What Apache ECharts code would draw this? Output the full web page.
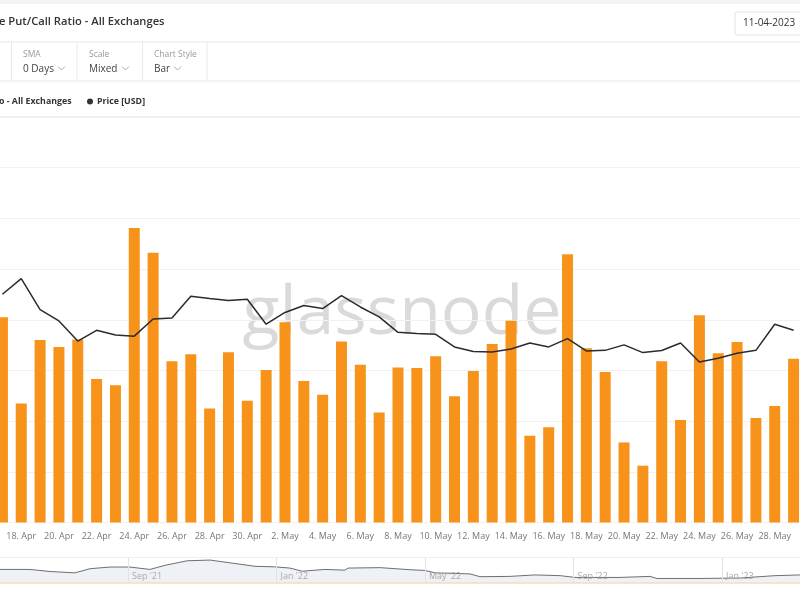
<!DOCTYPE html>
<html>
<head>
<meta charset="utf-8">
<script src="https://cdn.jsdelivr.net/npm/echarts@6/dist/echarts.min.js"></script>
<style>
  html, body { margin: 0; padding: 0; background: #fff; width: 800px; height: 600px; overflow: hidden; position: relative; }
  /* the canvas is wider than the page: the reference is a crop of a larger chart */
  #chart { position: absolute; left: -30px; top: 0; width: 850px; height: 600px; }
</style>
</head>
<body>
<div id="chart"></div>
<script>
// daily categories (2023)
const days = [
  '17. Apr', '18. Apr', '19. Apr', '20. Apr', '21. Apr', '22. Apr', '23. Apr', '24. Apr', '25. Apr', '26. Apr',
  '27. Apr', '28. Apr', '29. Apr', '30. Apr', '1. May', '2. May', '3. May', '4. May', '5. May', '6. May',
  '7. May', '8. May', '9. May', '10. May', '11. May', '12. May', '13. May', '14. May', '15. May', '16. May',
  '17. May', '18. May', '19. May', '20. May', '21. May', '22. May', '23. May', '24. May', '25. May', '26. May',
  '27. May', '28. May', '29. May'
]

// put/call ratio (bars)
const putCallRatio = [
  0.405, 0.235, 0.360, 0.346, 0.361, 0.283, 0.271, 0.581, 0.532, 0.318,
  0.332, 0.225, 0.336, 0.240, 0.301, 0.395, 0.279, 0.252, 0.357, 0.311,
  0.217, 0.306, 0.305, 0.328, 0.249, 0.299, 0.352, 0.398, 0.171, 0.188,
  0.529, 0.344, 0.297, 0.158, 0.112, 0.318, 0.202, 0.409, 0.334, 0.356,
  0.206, 0.230, 0.323
]

// price [USD] (line)
const priceUsd = [
  29260, 30030, 28500, 27940, 26950, 27480, 27250, 27190, 28040, 28090,
  29160, 29050, 28950, 29010, 27780, 28360, 28700, 28550, 29190, 28630,
  28140, 27380, 27320, 27280, 26660, 26430, 26410, 26560, 26850, 26660,
  27070, 26460, 26490, 26760, 26380, 26480, 26850, 25920, 26100, 26350,
  26490, 27780, 27480
]

// navigator: months since Jan 2021 and price
const navMonths = [
  4.40, 5.36, 5.90, 6.57, 6.98, 7.52, 8.05, 8.59, 9.00, 9.59,
  10.21, 10.88, 11.42, 11.95, 12.36, 12.69, 13.31, 13.84, 13.93, 14.79,
  15.60, 16.00, 16.27, 17.21, 17.48, 18.29, 18.96, 19.64, 20.04, 21.25,
  22.06, 22.25, 23.41, 24.48, 25.43, 26.10
]
const navPrice = [
  41300, 41300, 35900, 32400, 43200, 47500, 47500, 41300, 52100, 63700,
  65600, 56700, 49400, 48000, 44800, 36700, 41300, 39400, 44800, 45900,
  40500, 38600, 32400, 29700, 22400, 23200, 27000, 25100, 20500, 20500,
  23200, 17800, 17800, 18900, 25100, 27000
]
const monthNames = ['Jan', 'Feb', 'Mar', 'Apr', 'May', 'Jun', 'Jul', 'Aug', 'Sep', 'Oct', 'Nov', 'Dec']

const chart = echarts.init(document.getElementById('chart'))
const font = '"Open Sans", "Noto Sans", sans-serif'

const hLine = (y, color) => ({
  type: 'line', silent: true,
  shape: { x1: 0, y1: y, x2: 800, y2: y },
  style: { stroke: color || '#e9e9e9', lineWidth: 1 }
})
const vLine = (x, y1, y2) => ({
  type: 'line', silent: true,
  shape: { x1: x, y1: y1, x2: x, y2: y2 },
  style: { stroke: '#e9e9e9', lineWidth: 1 }
})
const txt = (x, y, text, size, color, weight) => ({
  type: 'text', silent: true, x: x, y: y,
  style: { text: text, fontSize: size, fill: color, fontWeight: weight || 'normal', fontFamily: font, verticalAlign: 'middle' }
})
const chevron = (x, y) => ({
  type: 'polyline', silent: true,
  shape: { points: [[x, y - 2], [x + 3.5, y + 1.5], [x + 7, y - 2]] },
  style: { stroke: '#aaa', lineWidth: 1, fill: null }
})

const option = {
  animation: false,
  backgroundColor: '#fff',
  textStyle: { fontFamily: font },
  graphic: [
    {
      type: 'group',
      x: 30,
      children: [
        { type: 'rect', silent: true, shape: { x: 0, y: 0, width: 800, height: 4 }, style: { fill: '#f2f3f5' } },
        txt(-1, 22, 'e Put/Call Ratio - All Exchanges', 11.2, '#333', 600),
        { type: 'rect', silent: true, shape: { x: 735, y: 12, width: 70, height: 23, r: 2 }, style: { fill: '#fff', stroke: '#e2e2e2', lineWidth: 1 } },
        txt(743, 23.5, '11-04-2023', 10, '#333'),
        hLine(42),
        vLine(11.5, 42, 81), vLine(77, 42, 81), vLine(142.5, 42, 81), vLine(207, 42, 81),
        txt(23, 55, 'SMA', 8.5, '#999'),
        txt(23, 69, '0 Days', 10, '#444'),
        chevron(58, 68.5),
        txt(89, 55, 'Scale', 8.5, '#999'),
        txt(89, 69, 'Mixed', 10, '#444'),
        chevron(122, 68.5),
        txt(154, 55, 'Chart Style', 8.5, '#999'),
        txt(154, 69, 'Bar', 10, '#444'),
        chevron(174, 68.5),
        hLine(81),
        txt(-1, 101.5, 'o - All Exchanges', 8.8, '#333', 'bold'),
        { type: 'circle', silent: true, shape: { cx: 90, cy: 101.5, r: 3 }, style: { fill: '#333' } },
        txt(97, 101.5, 'Price [USD]', 8.8, '#333', 'bold'),
        hLine(116.5, '#efefef'),
        {
          type: 'text', silent: true, z: -1, x: 402, y: 315,
          style: {
            text: 'glassnode', fontSize: 68, fill: 'rgba(205,205,205,0.75)',
            fontFamily: font, align: 'center', verticalAlign: 'middle'
          }
        },
        hLine(557.5, '#eeeeee')
      ]
    }
  ],
  grid: [
    { left: 23, right: 17, top: 117, bottom: 77.5 },
    { left: 9.5, right: 20, top: 558, bottom: 17 }
  ],
  xAxis: [
    {
      type: 'category',
      gridIndex: 0,
      data: days,
      axisLine: { show: false },
      axisTick: { show: false },
      axisLabel: {
        interval: (i) => i % 2 === 1,
        color: '#777',
        fontSize: 9,
        margin: 9
      }
    },
    {
      type: 'value',
      gridIndex: 1,
      min: 4,
      max: 26.1,
      interval: 4,
      z: 5,
      axisLine: { show: true, lineStyle: { color: '#f7dcbc', width: 1.5 } },
      axisTick: { show: false },
      splitLine: { show: true, lineStyle: { color: '#e3e3e3' } },
      axisLabel: {
        inside: true,
        showMinLabel: false,
        showMaxLabel: false,
        align: 'left',
        padding: [0, 0, 0, 4],
        margin: 2,
        color: '#aaa',
        fontSize: 9,
        formatter: (v) => monthNames[v % 12] + " '" + String(21 + Math.floor(v / 12))
      }
    }
  ],
  yAxis: [
    {
      type: 'value',
      gridIndex: 0,
      min: 0,
      max: 0.8,
      interval: 0.1,
      axisLabel: { show: false },
      axisLine: { show: false },
      axisTick: { show: false },
      splitLine: { lineStyle: { color: '#f1f1f1' } }
    },
    {
      type: 'value',
      gridIndex: 0,
      position: 'right',
      min: 18000,
      max: 38000,
      axisLabel: { show: false },
      axisLine: { show: false },
      axisTick: { show: false },
      splitLine: { show: false }
    },
    {
      type: 'value',
      gridIndex: 1,
      min: 6000,
      max: 71000,
      axisLabel: { show: false },
      axisLine: { show: false },
      axisTick: { show: false },
      splitLine: { show: false }
    }
  ],
  series: [
    {
      name: 'Put/Call Ratio - All Exchanges',
      type: 'bar',
      xAxisIndex: 0,
      yAxisIndex: 0,
      barWidth: 11,
      itemStyle: { color: '#f7931a' },
      data: putCallRatio
    },
    {
      name: 'Price [USD]',
      type: 'line',
      xAxisIndex: 0,
      yAxisIndex: 1,
      symbol: 'none',
      lineStyle: { color: '#2b2b2b', width: 1.5 },
      data: priceUsd
    },
    {
      name: 'navigator',
      type: 'line',
      xAxisIndex: 1,
      yAxisIndex: 2,
      symbol: 'none',
      z: 1,
      lineStyle: { color: '#6f6f6f', width: 1 },
      areaStyle: { color: '#eef1f5', opacity: 1 },
      data: navMonths.map((m, i) => [m, navPrice[i]])
    }
  ]
}

chart.setOption(option)
</script>
</body>
</html>
